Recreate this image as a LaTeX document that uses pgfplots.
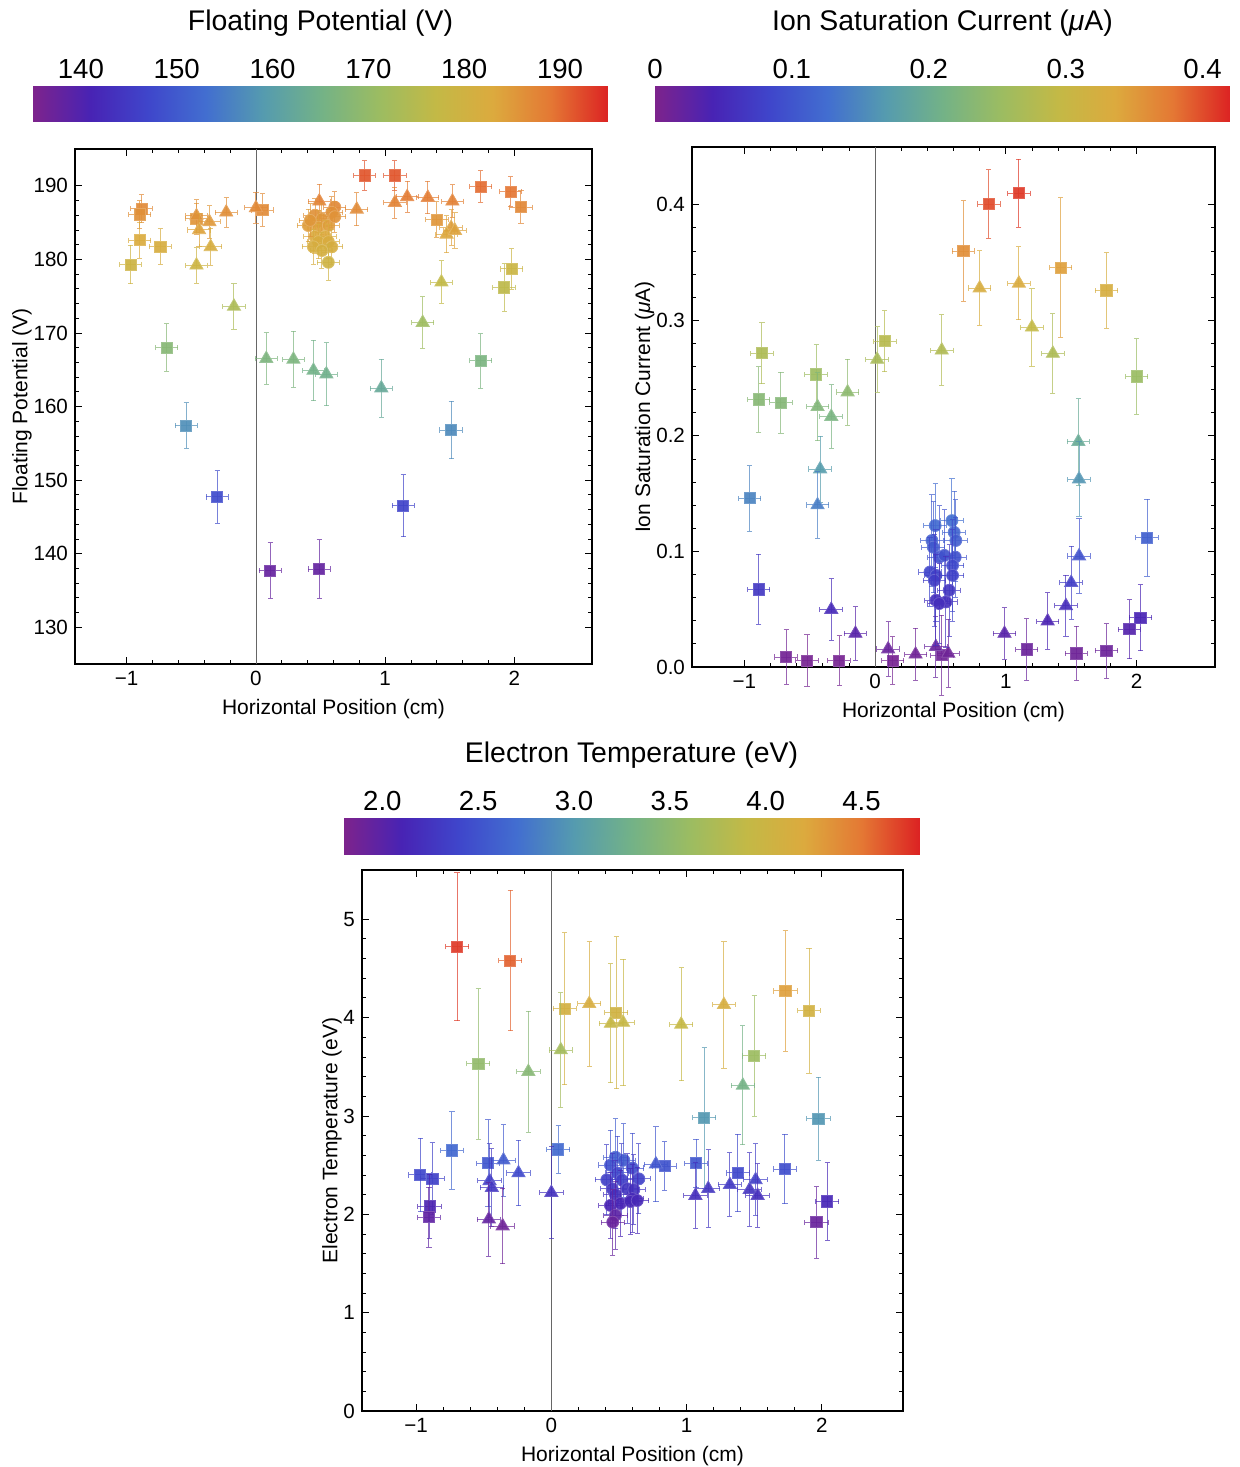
\documentclass[border=0pt]{standalone}
\usepackage{fontspec}
\setmainfont{Liberation Sans}
\usepackage{pgfplots}
\usepackage{pgfplotstable}
\pgfplotsset{compat=1.18}
\usetikzlibrary{arrows.meta}

\pgfplotsset{
  colormap={mma}{rgb255(0pt)=(125,35,140) rgb255(1pt)=(72,35,180) rgb255(2pt)=(63,70,203)
    rgb255(3pt)=(66,110,208) rgb255(4pt)=(85,155,175) rgb255(5pt)=(115,178,135)
    rgb255(6pt)=(155,188,98) rgb255(7pt)=(195,185,70) rgb255(8pt)=(220,170,62)
    rgb255(9pt)=(228,120,52) rgb255(10pt)=(220,35,35)},
  frame/.style={
    scale only axis, anchor=north west,
    xmin=-1.4, xmax=2.6, xtick={-1,0,1,2}, xticklabels={−1,0,1,2},
    minor x tick num=4, minor y tick num=4,
    tick align=inside, major tick length=3.5pt, minor tick length=2pt,
    tick style={black, line width=0.4pt},
    axis line style={line width=0.6pt},
    xlabel={Horizontal Position (cm)},
    ylabel shift=-6pt,
    tick label style={font=\fontsize{10.3}{12}\selectfont},
    label style={font=\fontsize{10.5}{12}\selectfont},
    /pgf/number format/assume math mode=true,
    colormap name=mma,
  },
  % markers coloured by value, error bars drawn in the same mapped colour
  pts/.style={scatter, only marks, point meta=y,
    visualization depends on={\thisrow{ex} \as \ex},
    visualization depends on={\thisrow{ey} \as \ey},
    scatter/use mapped color={draw=mapped color!80!white, fill=mapped color, fill opacity=0.92},
    scatter/@pre marker code/.append code={
      \draw[mapped color, draw opacity=0.7, line width=0.5pt, {Bar[width=2.6pt]}-{Bar[width=2.6pt]}]
        (axis direction cs:0,-\ey) -- (axis direction cs:0,\ey);
      \draw[mapped color, draw opacity=0.7, line width=0.5pt, {Bar[width=2.6pt]}-{Bar[width=2.6pt]}]
        (axis direction cs:-\ex,0) -- (axis direction cs:\ex,0);
    },
  },
  cbar/.style={scale only axis, anchor=north west, height=17.5pt, width=287.5pt,
    ymin=0, ymax=1, ytick=\empty, enlargelimits=false, axis line style={draw=none},
    xticklabel pos=upper, major tick length=0pt, tick style={draw=none},
    colormap name=mma,
    tick label style={font=\fontsize{13.8}{16}\selectfont},
    /pgf/number format/assume math mode=true,
    title style={font=\fontsize{14.2}{17}\selectfont, at={(0.5,1)}, anchor=center, yshift=25.5pt},
  },
}

% Floating potential (V)
\pgfplotstableread{
x y ex ey
-0.885 186.9 0.09 2.0
-0.90 186.1 0.09 2.0
-0.90 182.6 0.09 2.5
-0.74 181.7 0.09 2.5
-0.97 179.3 0.09 2.7
-0.69 168.0 0.09 3.3
-0.54 157.4 0.09 3.2
-0.30 147.7 0.09 3.7
-0.46 185.5 0.09 2.2
0.05 186.7 0.09 2.3
0.11 137.7 0.09 3.9
0.49 137.9 0.09 4.1
0.84 191.4 0.09 2.1
1.075 191.4 0.09 2.1
1.14 146.5 0.09 4.3
1.40 185.4 0.09 2.5
1.51 156.8 0.09 4.0
1.74 189.9 0.09 2.2
1.74 166.2 0.09 3.8
1.92 176.2 0.09 3.3
1.97 189.2 0.09 2.1
1.98 178.7 0.09 2.8
2.05 187.1 0.09 2.3
}\vfsq
\pgfplotstableread{
x y ex ey
-0.46 185.9 0.09 2.3
-0.44 184.0 0.09 2.3
-0.36 185.1 0.09 2.3
-0.23 186.4 0.09 2.1
-0.46 179.2 0.09 2.5
-0.35 181.7 0.09 2.6
-0.17 173.6 0.09 3.2
0.00 187.0 0.09 2.2
0.08 166.5 0.09 3.6
0.29 166.4 0.09 3.9
0.445 164.9 0.09 4.2
0.545 164.4 0.09 4.4
0.97 162.5 0.09 4.0
0.49 187.9 0.09 2.4
0.78 186.8 0.09 2.3
1.075 187.7 0.09 2.2
1.17 188.5 0.09 2.2
1.33 188.4 0.09 2.3
1.52 187.9 0.09 2.3
1.51 184.3 0.09 2.5
1.475 183.4 0.09 2.6
1.54 183.9 0.09 2.5
1.435 176.9 0.09 3.0
1.29 171.4 0.09 3.6
}\vftr
\pgfplotstableread{
x y ex ey
0.61 187.1 0.09 2.2
0.587 186.4 0.09 2.2
0.457 186.0 0.09 2.3
0.51 185.5 0.09 2.2
0.405 184.6 0.09 2.3
0.483 184.4 0.09 2.3
0.56 184.6 0.09 2.2
0.457 183.1 0.09 2.4
0.535 183.1 0.09 2.3
0.483 182.4 0.09 2.4
0.56 182.4 0.09 2.4
0.444 181.7 0.09 2.4
0.587 181.7 0.09 2.4
0.51 181.2 0.09 2.5
0.56 179.6 0.09 2.5
0.42 185.3 0.09 2.3
0.61 185.8 0.09 2.2
}\vfci

% Ion saturation current (muA)
\pgfplotstableread{
x y ex ey
0.87 0.4006 0.09 0.030
1.10 0.410 0.09 0.030
0.676 0.360 0.09 0.044
1.42 0.3457 0.09 0.061
1.77 0.3259 0.09 0.033
2.00 0.2514 0.09 0.033
0.075 0.2819 0.09 0.027
-0.865 0.2716 0.09 0.027
-0.89 0.2316 0.09 0.029
-0.72 0.2287 0.09 0.027
-0.45 0.2532 0.09 0.026
-0.96 0.146 0.09 0.029
-0.89 0.0672 0.09 0.031
-0.68 0.0086 0.09 0.024
-0.52 0.0055 0.09 0.023
-0.275 0.0055 0.09 0.022
0.135 0.0055 0.09 0.021
0.51 0.0103 0.09 0.035
1.16 0.0152 0.09 0.027
1.54 0.0118 0.09 0.024
1.77 0.014 0.09 0.024
1.945 0.0327 0.09 0.026
2.03 0.0425 0.09 0.029
2.08 0.1118 0.09 0.034
}\issq
\pgfplotstableread{
x y ex ey
0.80 0.3279 0.09 0.033
1.10 0.332 0.09 0.032
1.20 0.294 0.09 0.034
1.36 0.2713 0.09 0.035
0.51 0.2741 0.09 0.031
0.016 0.2661 0.09 0.029
-0.21 0.2379 0.09 0.029
-0.44 0.2252 0.09 0.030
-0.335 0.2167 0.09 0.028
1.555 0.195 0.09 0.038
1.56 0.1626 0.09 0.033
-0.42 0.1713 0.09 0.029
-0.44 0.1402 0.09 0.029
-0.335 0.0497 0.09 0.027
-0.15 0.029 0.09 0.024
0.10 0.0155 0.09 0.024
0.31 0.011 0.09 0.023
0.465 0.0175 0.09 0.027
0.56 0.0118 0.09 0.030
0.99 0.029 0.09 0.023
1.32 0.0397 0.09 0.025
1.46 0.0529 0.09 0.027
1.50 0.073 0.09 0.032
1.56 0.096 0.09 0.033
}\istr
\pgfplotstableread{
x y ex ey
0.46 0.1224 0.09 0.037
0.588 0.1267 0.09 0.037
0.605 0.1166 0.09 0.036
0.435 0.1095 0.09 0.040
0.618 0.1095 0.09 0.036
0.445 0.1037 0.09 0.040
0.49 0.0951 0.09 0.045
0.53 0.0966 0.09 0.040
0.613 0.0951 0.09 0.035
0.593 0.0879 0.09 0.040
0.42 0.0822 0.09 0.030
0.466 0.0793 0.09 0.040
0.593 0.0793 0.09 0.040
0.453 0.075 0.09 0.040
0.567 0.0664 0.09 0.040
0.466 0.0578 0.09 0.040
0.542 0.0563 0.09 0.040
0.49 0.0549 0.09 0.035
}\isci

% Electron temperature (eV)
\pgfplotstableread{
x y ex ey
-0.697 4.72 0.09 0.76
-0.304 4.58 0.09 0.72
-0.54 3.53 0.09 0.77
0.10 4.09 0.09 0.78
0.48 4.05 0.09 0.78
1.73 4.27 0.09 0.62
1.905 4.07 0.09 0.64
1.50 3.61 0.09 0.62
1.13 2.98 0.09 0.72
1.975 2.97 0.09 0.43
-0.969 2.40 0.09 0.38
-0.88 2.36 0.09 0.37
-0.735 2.65 0.09 0.40
-0.90 2.08 0.09 0.33
-0.905 1.97 0.09 0.31
-0.468 2.52 0.09 0.45
0.05 2.66 0.09 0.25
0.837 2.49 0.09 0.25
1.07 2.52 0.09 0.25
1.38 2.42 0.09 0.40
1.727 2.46 0.09 0.36
1.96 1.92 0.09 0.37
2.04 2.13 0.09 0.40
}\tesq
\pgfplotstableread{
x y ex ey
-0.17 3.45 0.09 0.62
0.07 3.67 0.09 0.59
0.28 4.14 0.09 0.64
0.44 3.94 0.09 0.61
0.53 3.95 0.09 0.65
0.96 3.93 0.09 0.58
1.276 4.13 0.09 0.65
1.416 3.31 0.09 0.61
-0.354 2.55 0.09 0.37
-0.243 2.42 0.09 0.34
-0.457 2.34 0.09 0.38
-0.44 2.27 0.09 0.40
-0.462 1.95 0.09 0.38
-0.36 1.88 0.09 0.39
0.0 2.22 0.09 0.47
0.773 2.51 0.09 0.39
1.065 2.19 0.09 0.34
1.16 2.26 0.09 0.40
1.32 2.30 0.09 0.33
1.466 2.25 0.09 0.38
1.51 2.35 0.09 0.37
1.525 2.19 0.09 0.33
}\tetr
\pgfplotstableread{
x y ex ey
0.474 2.58 0.09 0.40
0.536 2.55 0.09 0.38
0.437 2.50 0.09 0.36
0.598 2.47 0.09 0.36
0.487 2.42 0.09 0.38
0.41 2.35 0.09 0.36
0.52 2.35 0.09 0.37
0.647 2.36 0.09 0.36
0.45 2.26 0.09 0.36
0.56 2.26 0.09 0.36
0.61 2.25 0.09 0.36
0.474 2.20 0.09 0.35
0.598 2.16 0.09 0.35
0.437 2.09 0.09 0.34
0.51 2.11 0.09 0.34
0.585 2.13 0.09 0.34
0.635 2.14 0.09 0.34
0.474 1.99 0.09 0.35
0.454 1.92 0.09 0.34
}\teci

\begin{document}
\begin{tikzpicture}
\useasboundingbox (0,0) rectangle (619.5pt,-733.5pt);

% ---- colour bars
\begin{axis}[cbar, at={(16.5pt,-43pt)}, xmin=135, xmax=195, xtick={140,150,...,190},
  title={Floating Potential (V)}]
\addplot[surf, shader=interp, point meta=x, mesh/cols=2] coordinates {(135,0) (195,0) (135,1) (195,1)};
\end{axis}
\begin{axis}[cbar, at={(327.5pt,-43pt)}, xmin=0, xmax=0.42, xtick={0,0.1,0.2,0.3,0.4},
  xticklabels={0,0.1,0.2,0.3,0.4}, title={Ion Saturation Current (\textit{μ}A)}]
\addplot[surf, shader=interp, point meta=x, mesh/cols=2] coordinates {(0,0) (0.42,0) (0,1) (0.42,1)};
\end{axis}
\begin{axis}[cbar, at={(172pt,-409pt)}, height=18pt, xmin=1.8, xmax=4.8, xtick={2,2.5,...,4.5},
  xticklabels={2.0,2.5,3.0,3.5,4.0,4.5}, title={Electron Temperature (eV)}]
\addplot[surf, shader=interp, point meta=x, mesh/cols=2] coordinates {(1.8,0) (4.8,0) (1.8,1) (4.8,1)};
\end{axis}

% ---- floating potential
\begin{axis}[frame, at={(37.5pt,-74.5pt)}, width=258.5pt, height=257.5pt,
  ymin=125, ymax=195, ytick={130,140,...,190},
  point meta min=135, point meta max=195, ylabel={Floating Potential (V)}]
\addplot[black!60, line width=0.4pt, forget plot] coordinates {(0,125) (0,195)};
\addplot[mark=square*, mark size=2.8pt, pts] table[x=x, y=y] {\vfsq};
\addplot[mark=triangle*, mark size=3.8pt, pts] table[x=x, y=y] {\vftr};
\addplot[mark=*, mark size=3pt, pts] table[x=x, y=y] {\vfci};
\end{axis}

% ---- ion saturation current
\begin{axis}[frame, at={(346pt,-73.5pt)}, width=261.5pt, height=260pt,
  ymin=0, ymax=0.45, ytick={0,0.1,0.2,0.3,0.4}, yticklabels={0.0,0.1,0.2,0.3,0.4},
  point meta min=0, point meta max=0.42, ylabel={Ion Saturation Current (\textit{μ}A)}]
\addplot[black!60, line width=0.4pt, forget plot] coordinates {(0,0) (0,0.45)};
\addplot[mark=square*, mark size=2.8pt, pts] table[x=x, y=y] {\issq};
\addplot[mark=triangle*, mark size=3.8pt, pts] table[x=x, y=y] {\istr};
\addplot[mark=*, mark size=3pt, pts] table[x=x, y=y] {\isci};
\end{axis}

% ---- electron temperature
\begin{axis}[frame, at={(181pt,-435pt)}, width=270.5pt, height=270.5pt,
  ymin=0, ymax=5.5, ytick={0,1,...,5},
  point meta min=1.8, point meta max=4.8, ylabel={Electron Temperature (eV)}]
\addplot[black!60, line width=0.4pt, forget plot] coordinates {(0,0) (0,5.5)};
\addplot[mark=square*, mark size=2.8pt, pts] table[x=x, y=y] {\tesq};
\addplot[mark=triangle*, mark size=3.8pt, pts] table[x=x, y=y] {\tetr};
\addplot[mark=*, mark size=3pt, pts] table[x=x, y=y] {\teci};
\end{axis}
\end{tikzpicture}
\end{document}
